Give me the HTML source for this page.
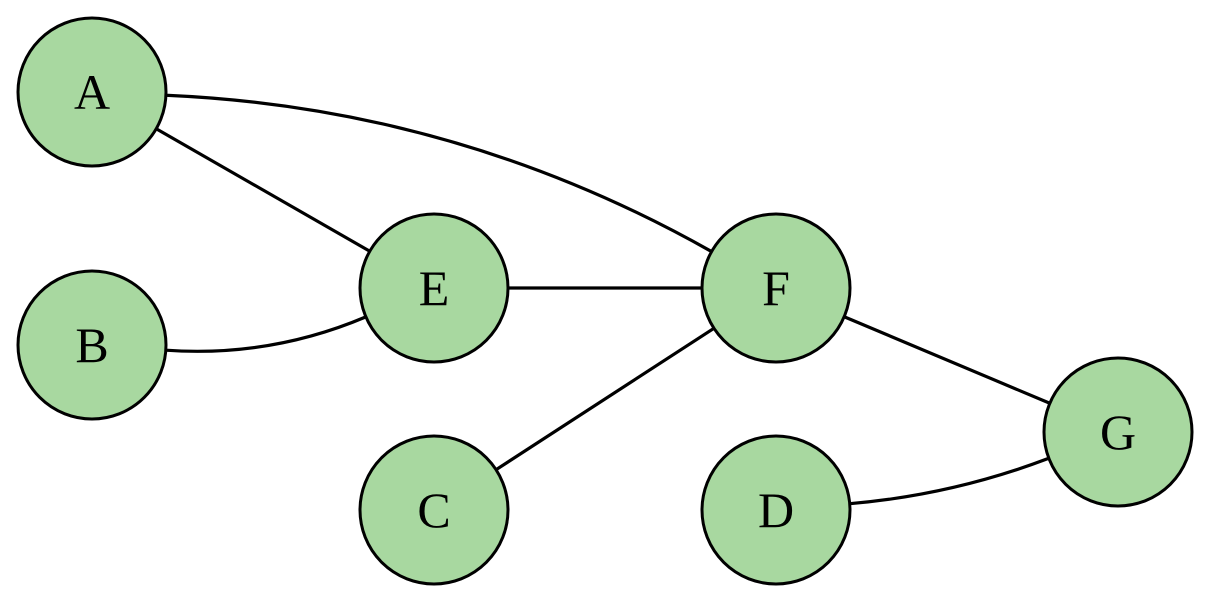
<!DOCTYPE html>
<html><head><meta charset="utf-8"><style>
html,body{margin:0;padding:0;background:#fff;}
svg{display:block;}
</style></head><body>
<svg id="g" width="1213" height="604" viewBox="0 0 1213 604"></svg>
<script>
const nodeLabels = ["A","B","C","D","E","F","G"];
const nodeX = [92,92,434,776,434,776,1118];
const nodeY = [92,345,510,510,288,288,432];
const edgeFrom = ["A","A","B","E","C","F","D"];
const edgeTo   = ["E","F","E","F","F","G","G"];
const edgeBend = [0,0.12,-0.12,0,0,0,-0.07];
const R = 74;
const svg = document.getElementById('g');
const NS = "http://www.w3.org/2000/svg";
function pos(l){const i=nodeLabels.indexOf(l);return [nodeX[i],nodeY[i]];}
for(let k=0;k<edgeFrom.length;k++){
  const [x1,y1]=pos(edgeFrom[k]),[x2,y2]=pos(edgeTo[k]);
  const dx=x2-x1,dy=y2-y1,len=Math.hypot(dx,dy);
  const mx=(x1+x2)/2,my=(y1+y2)/2;
  const b=edgeBend[k]*len;
  const cx=mx+(dy/len)*b, cy=my-(dx/len)*b;
  let ax=cx-x1,ay=cy-y1,al=Math.hypot(ax,ay);
  let bx=cx-x2,by=cy-y2,bl=Math.hypot(bx,by);
  const sx=x1+ax/al*R, sy=y1+ay/al*R, ex=x2+bx/bl*R, ey=y2+by/bl*R;
  const p=document.createElementNS(NS,'path');
  p.setAttribute('d',`M${sx},${sy} Q${cx},${cy} ${ex},${ey}`);
  p.setAttribute('fill','none');p.setAttribute('stroke','#000');p.setAttribute('stroke-width','3.2');
  
  
  svg.appendChild(p);
}
for(let i=0;i<nodeLabels.length;i++){
  const c=document.createElementNS(NS,'circle');
  c.setAttribute('cx',nodeX[i]);c.setAttribute('cy',nodeY[i]);c.setAttribute('r',R);
  c.setAttribute('fill','#a8d8a0');c.setAttribute('stroke','#000');c.setAttribute('stroke-width','3');
  
  
  svg.appendChild(c);
  const t=document.createElementNS(NS,'text');
  t.setAttribute('x',nodeX[i]);t.setAttribute('y',nodeY[i]+17);
  t.setAttribute('text-anchor','middle');t.setAttribute('font-size','50');
  t.setAttribute('font-family','"Liberation Serif", serif');
  t.textContent=nodeLabels[i];
  
  
  svg.appendChild(t);
}
</script>
</body></html>
